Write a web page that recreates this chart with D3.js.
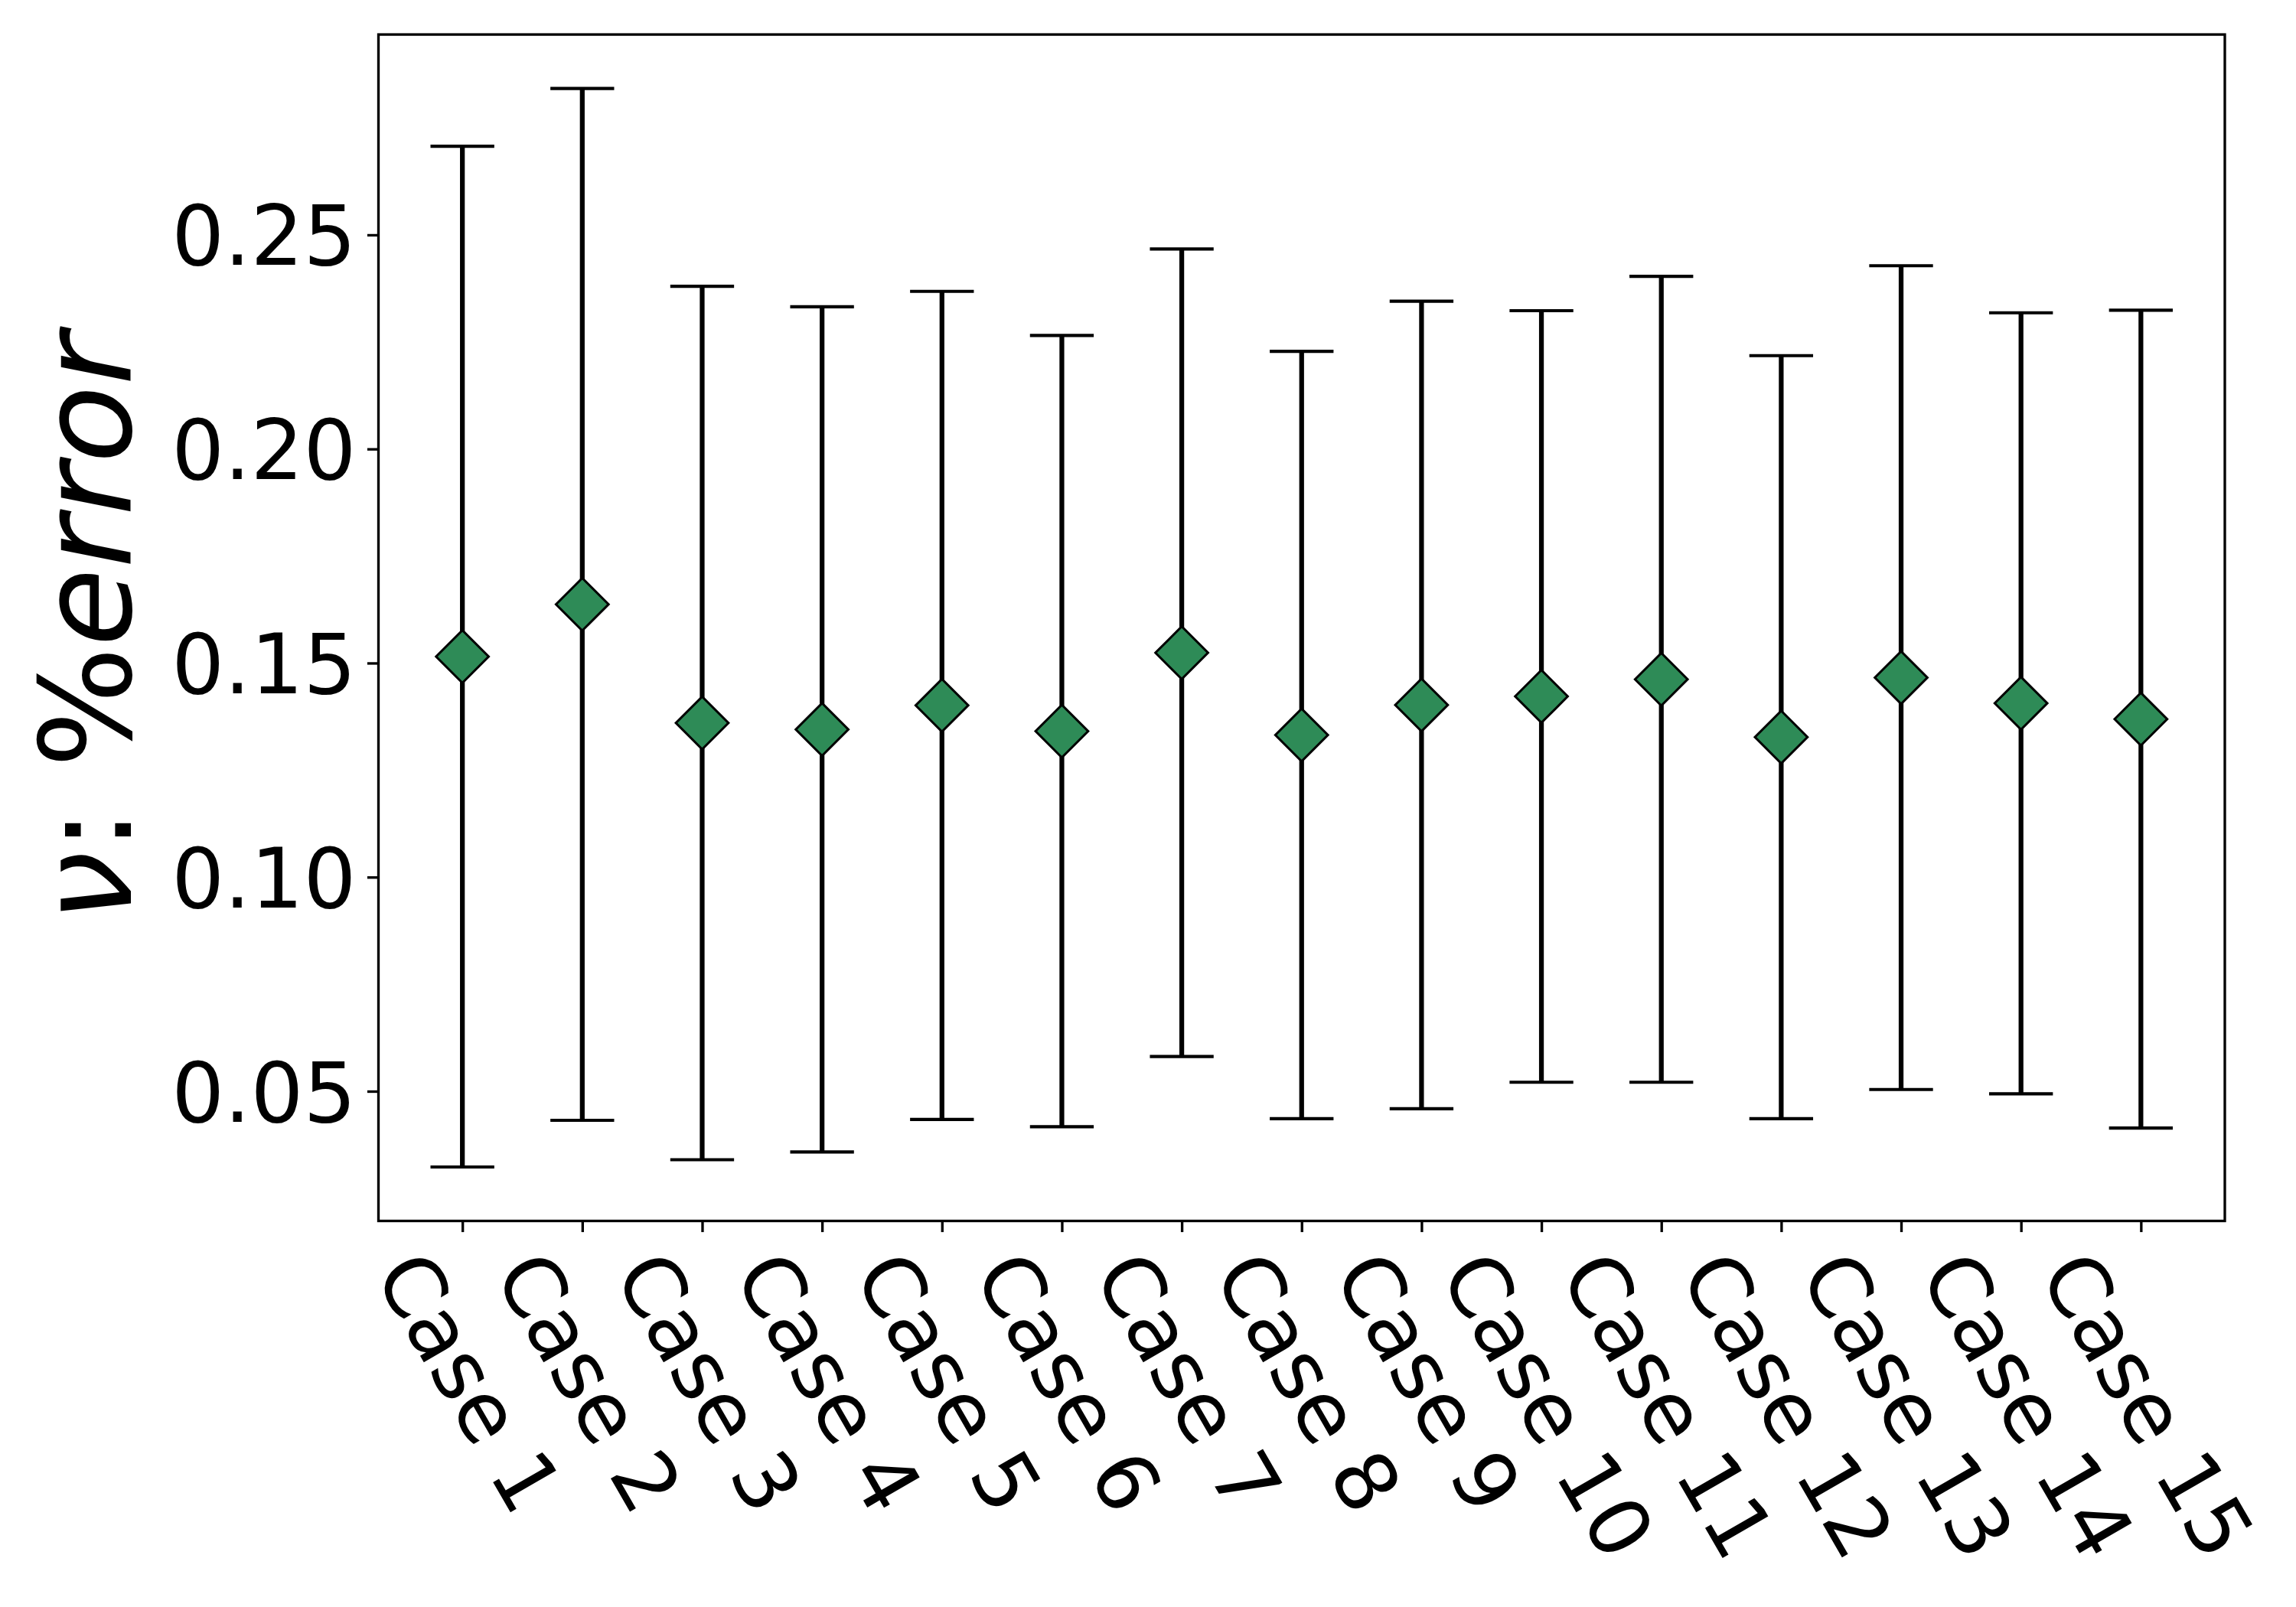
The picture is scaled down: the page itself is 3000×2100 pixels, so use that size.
<!DOCTYPE html>
<html>
<head>
<meta charset="utf-8">
<script src="https://cdn.jsdelivr.net/npm/d3@7"></script>
<style>
  html, body { margin: 0; padding: 0; background: #ffffff; }
  svg { display: block; }
</style>
</head>
<body>
<svg id="chart" width="3000" height="2100"></svg>
<script>
// ---------------- data ----------------
const categories = ["Case 1", "Case 2", "Case 3", "Case 4", "Case 5",
                    "Case 6", "Case 7", "Case 8", "Case 9", "Case 10",
                    "Case 11", "Case 12", "Case 13", "Case 14", "Case 15"];
const means  = [0.1515, 0.1637, 0.1360, 0.1345, 0.1401, 0.1341, 0.1524, 0.1332,
                0.1402, 0.1422, 0.1462, 0.1327, 0.1466, 0.1406, 0.1369];
const errors = [0.1192, 0.1205, 0.1020, 0.0987, 0.0967, 0.0924, 0.0943, 0.0896,
                0.0943, 0.0901, 0.0941, 0.0891, 0.0962, 0.0912, 0.0955];
const yTicks = [0.05, 0.10, 0.15, 0.20, 0.25];
const yLabelParts = [
  { text: "\u03bd", italic: true },
  { text: ": %", italic: false },
  { text: "error", italic: true }
];

// ---------------- layout ----------------
const W = 3000, H = 2100;
const plot = { left: 494.5, right: 2907, top: 45.1, bottom: 1595.5 };
const PT = 300 / 72;                 // px per point
const tickFont = 26 * PT;            // 108.3 px
const labelFont = 40 * PT;           // 166.7 px
const tickLen = 3.5 * PT, tickPad = 3.5 * PT;
const spineW = 0.8 * PT;
const font = "'DejaVu Sans', 'Bitstream Vera Sans', sans-serif";

const svg = d3.select("#chart");
svg.append("rect").attr("width", W).attr("height", H).attr("fill", "#ffffff");

// scales (matplotlib-like 5% margins)
const n = categories.length;
const x = d3.scaleLinear()
  .domain([-0.05 * (n - 1), (n - 1) * 1.05])
  .range([plot.left, plot.right]);

const lo = d3.min(means.map((m, i) => m - errors[i]));
const hi = d3.max(means.map((m, i) => m + errors[i]));
const pad = (hi - lo) * 0.05;
const y = d3.scaleLinear()
  .domain([lo - pad, hi + pad])
  .range([plot.bottom, plot.top]);

// ---------------- axes ----------------
const yAxis = d3.axisLeft(y)
  .tickValues(yTicks)
  .tickFormat(d3.format(".2f"))
  .tickSize(tickLen)
  .tickPadding(tickPad);
const gy = svg.append("g").attr("transform", `translate(${plot.left},0)`).call(yAxis);
gy.select(".domain").remove();
gy.selectAll(".tick line").attr("stroke", "#000").attr("stroke-width", spineW);
gy.selectAll(".tick text")
  .attr("font-family", font)
  .attr("font-size", tickFont)
  .attr("fill", "#000")
  .attr("dy", "0.36em");

const xAxis = d3.axisBottom(x)
  .tickValues(d3.range(n))
  .tickFormat(i => categories[i])
  .tickSize(tickLen)
  .tickPadding(tickPad);
const gx = svg.append("g").attr("transform", `translate(0,${plot.bottom})`).call(xAxis);
gx.select(".domain").remove();
gx.selectAll(".tick line").attr("stroke", "#000").attr("stroke-width", spineW);
gx.selectAll(".tick text").remove();

// rotated x tick labels (rotation -60 in matplotlib terms, ha=center, va=top)
const asc = 0.76 * tickFont, desc = 0.24 * tickFont;
const c60 = 0.5, s60 = Math.sqrt(3) / 2;
const labelTop = plot.bottom + tickLen + tickPad;
svg.append("g").selectAll("text")
  .data(categories)
  .join("text")
  .attr("font-family", font)
  .attr("font-size", tickFont)
  .attr("fill", "#000")
  .text(d => d)
  .each(function (d, i) {
    const w = this.getComputedTextLength();
    const minx = -s60 * desc, maxx = c60 * w + s60 * asc;
    const ox = x(i) - (minx + maxx) / 2;
    const oy = labelTop + c60 * asc;
    d3.select(this).attr("transform", `translate(${ox},${oy}) rotate(60)`);
  });

// y label
const yl = svg.append("text")
  .attr("transform", `translate(171,${(plot.top + plot.bottom) / 2}) rotate(-90)`)
  .attr("text-anchor", "middle")
  .attr("font-family", font)
  .attr("font-size", labelFont)
  .attr("fill", "#000");
yl.selectAll("tspan").data(yLabelParts).join("tspan")
  .attr("font-style", d => d.italic ? "oblique" : "normal")
  .text(d => d.text);

// ---------------- error bars ----------------
const capHalf = 10 * PT;
const g = svg.append("g");
g.selectAll("line.bar").data(means).join("line")
  .attr("class", "bar")
  .attr("x1", (d, i) => x(i)).attr("x2", (d, i) => x(i))
  .attr("y1", (d, i) => y(d - errors[i]))
  .attr("y2", (d, i) => y(d + errors[i]))
  .attr("stroke", "#000").attr("stroke-width", 1.5 * PT);

["lo", "hi"].forEach(k => {
  g.selectAll("line.cap" + k).data(means).join("line")
    .attr("class", "cap" + k)
    .attr("x1", (d, i) => x(i) - capHalf).attr("x2", (d, i) => x(i) + capHalf)
    .attr("y1", (d, i) => y(k === "lo" ? d - errors[i] : d + errors[i]))
    .attr("y2", (d, i) => y(k === "lo" ? d - errors[i] : d + errors[i]))
    .attr("stroke", "#000").attr("stroke-width", 1.0 * PT);
});

// diamond markers
const diamond = d3.symbol().type(d3.symbolSquare).size(2362);
g.selectAll("path.marker").data(means).join("path")
  .attr("class", "marker")
  .attr("d", diamond)
  .attr("transform", (d, i) => `translate(${x(i)},${y(d)}) rotate(45)`)
  .attr("fill", "#2e8b57")
  .attr("stroke", "#000")
  .attr("stroke-width", 3);

// ---------------- frame ----------------
svg.append("rect")
  .attr("x", plot.left).attr("y", plot.top)
  .attr("width", plot.right - plot.left)
  .attr("height", plot.bottom - plot.top)
  .attr("fill", "none")
  .attr("stroke", "#000")
  .attr("stroke-width", spineW);
</script>
</body>
</html>
